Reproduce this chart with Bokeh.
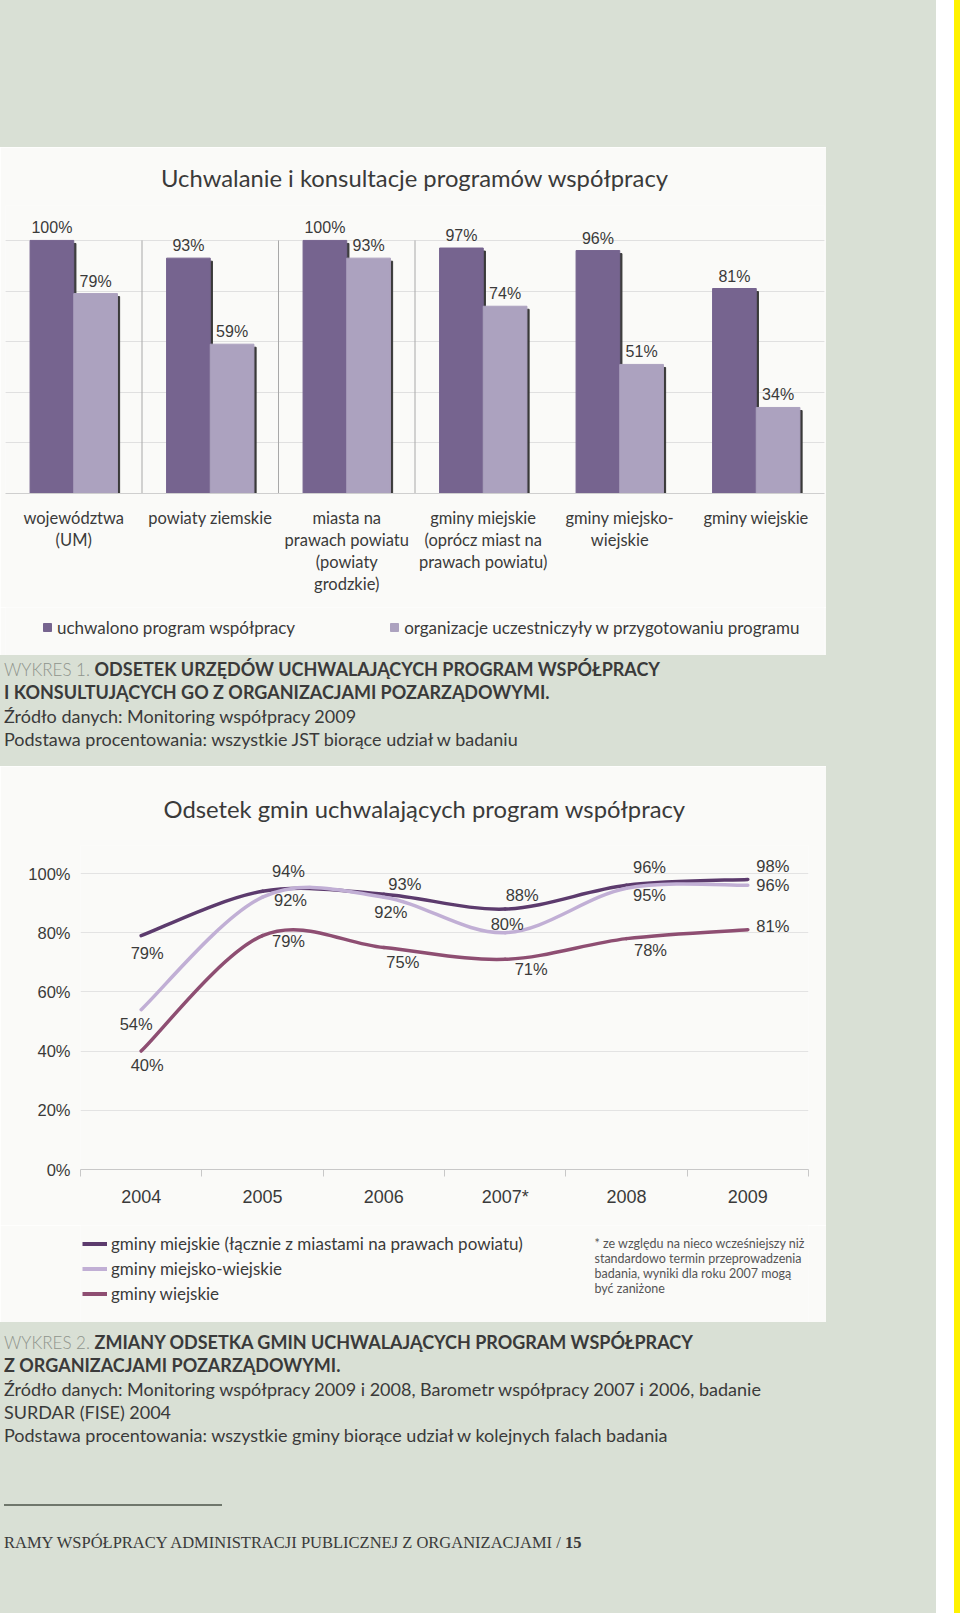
import numpy as np
from bokeh.plotting import figure
from bokeh.models import (ColumnDataSource, FixedTicker, Legend, LegendItem, Label, Div,
                          Range1d, PrintfTickFormatter, Grid)
from bokeh.layouts import column, row
from bokeh.embed import file_html
from bokeh.resources import INLINE
from bokeh.core.properties import value

# ---------------- data ----------------
bar_categories = ["województwa\n(UM)", "powiaty ziemskie",
                  "miasta na\nprawach powiatu\n(powiaty\ngrodzkie)",
                  "gminy miejskie\n(oprócz miast na\nprawach powiatu)",
                  "gminy miejsko-\nwiejskie", "gminy wiejskie"]
adopted = [100, 93, 100, 97, 96, 81]
consulted = [79, 59, 93, 74, 51, 34]
bar_series = ["uchwalono program współpracy",
              "organizacje uczestniczyły w przygotowaniu programu"]
bar_title = "Uchwalanie i konsultacje programów współpracy"

years = ["2004", "2005", "2006", "2007*", "2008", "2009"]
urban = [79, 94, 93, 88, 96, 98]
urban_rural = [54, 92, 92, 80, 95, 96]
rural = [40, 79, 75, 71, 78, 81]
line_series = ["gminy miejskie (łącznie z miastami na prawach powiatu)",
               "gminy miejsko-wiejskie", "gminy wiejskie"]
line_title = "Odsetek gmin uchwalających program współpracy"
y_ticks = [0, 20, 40, 60, 80, 100]
footnote = ("* ze względu na nieco wcześniejszy niż\nstandardowo termin przeprowadzenia\n"
            "badania, wyniki dla roku 2007 mogą\nbyć zaniżone")

caption1_label = "WYKRES 1."
caption1_title = ["ODSETEK URZĘDÓW UCHWALAJĄCYCH PROGRAM WSPÓŁPRACY",
                  "I KONSULTUJĄCYCH GO Z ORGANIZACJAMI POZARZĄDOWYMI."]
caption1_lines = ["Źródło danych: Monitoring współpracy 2009",
                  "Podstawa procentowania: wszystkie JST biorące udział w badaniu"]
caption2_label = "WYKRES 2."
caption2_title = ["ZMIANY ODSETKA GMIN UCHWALAJĄCYCH PROGRAM WSPÓŁPRACY",
                  "Z ORGANIZACJAMI POZARZĄDOWYMI."]
caption2_lines = ["Źródło danych: Monitoring współpracy 2009 i 2008, Barometr współpracy 2007 i 2006, badanie",
                  "SURDAR (FISE) 2004",
                  "Podstawa procentowania: wszystkie gminy biorące udział w kolejnych falach badania"]
footer_text = "RAMY WSPÓŁPRACY ADMINISTRACJI PUBLICZNEJ Z ORGANIZACJAMI"
footer_page = "15"

# ---------------- styles ----------------
SAGE = "#d9e0d5"
PANEL = "#fafaf8"
TXT = "#3a3a3a"
DARK_BAR = "#76648f"
LIGHT_BAR = "#aca2bf"
SHADOW = "#3a3a3a"
C_URBAN = "#5c3b6d"
C_UR = "#c1afd5"
C_RURAL = "#8e4e72"
HUM = "Lato"
NUM = "Liberation Sans"

# label offsets (pixels) for line chart data labels
off_urban = ([6, 26, 21, 17, 23, 25], [17, -20, -10, -14, -18, -13])
off_ur = ([-5, 28, 7, 2, 23, 25], [14, 3, 15, -9, 7, 0])
off_rural = ([6, 26, 19, 26, 24, 25], [14, 5, 14, 10, 11, -4])


def blank_fig(w, h, left, right):
    f = figure(width=w, height=h, x_range=Range1d(0, 1), y_range=Range1d(0, 1),
               output_backend="svg", toolbar_location=None,
               x_axis_location=None, y_axis_location=None,
               min_border_left=left, min_border_right=right, min_border_top=0, min_border_bottom=0,
               margin=0)
    f.background_fill_color = PANEL
    f.border_fill_color = PANEL
    f.outline_line_color = None
    f.grid.visible = False
    return f


# ================= chart 1: bars =================
W1, H1 = 826, 460
L1, R1 = 5, 2
p1 = figure(width=W1, height=H1, x_range=Range1d(-0.5, 5.5), y_range=Range1d(0, 113.8),
            output_backend="svg", toolbar_location=None, y_axis_location=None,
            min_border_left=L1, min_border_right=R1, min_border_top=58, min_border_bottom=114,
            margin=0, title=bar_title)
p1.background_fill_color = PANEL
p1.border_fill_color = PANEL
p1.outline_line_color = None
p1.title.align = "center"
p1.title.text_font = HUM
p1.title.text_font_style = "normal"
p1.title.text_font_size = "23.8px"
p1.title.text_color = TXT
p1.title.standoff = 27
p1.xgrid.visible = False
p1.add_layout(Grid(dimension=1, ticker=FixedTicker(ticks=y_ticks[1:]),
                   grid_line_color="#e0e0e0", grid_line_width=1))

idx1 = np.arange(len(bar_categories))
src1 = ColumnDataSource(dict(
    xd=idx1 - 0.16, xl=idx1 + 0.16,
    xds=idx1 - 0.16 + 0.016, xls=idx1 + 0.16 + 0.016,
    a=adopted, c=consulted,
    a_s=np.array(adopted) - 1.2, c_s=np.array(consulted) - 1.2,
    la=[f"{v}%" for v in adopted], lc=[f"{v}%" for v in consulted]))

# separators between first categories
sep = idx1[1:4] - 0.5
p1.segment(x0=sep, y0=0, x1=sep, y1=100, line_color="#a8a8a8", line_width=1)

p1.vbar(x="xds", top="a_s", width=0.32, source=src1, color=SHADOW)
p1.vbar(x="xls", top="c_s", width=0.32, source=src1, color=SHADOW)
p1.vbar(x="xd", top="a", width=0.32, source=src1, color=DARK_BAR)
p1.vbar(x="xl", top="c", width=0.32, source=src1, color=LIGHT_BAR)
for xf, yf, lf in (("xd", "a", "la"), ("xl", "c", "lc")):
    p1.text(x=xf, y=yf, text=lf, source=src1, text_align="center", text_baseline="bottom",
            y_offset=-4, text_font=value(NUM), text_font_size="16px", text_color=TXT)

ax1 = p1.xaxis[0]
ax1.ticker = FixedTicker(ticks=list(idx1))
ax1.major_label_overrides = {int(i): lab for i, lab in zip(idx1, bar_categories)}
ax1.major_tick_line_color = None
ax1.major_tick_out = 0
ax1.minor_tick_line_color = None
ax1.axis_line_color = "#cfcfcf"
ax1.major_label_standoff = 14
ax1.major_label_text_font = HUM
ax1.major_label_text_font_size = "16.5px"
ax1.major_label_text_line_height = 1.1
ax1.major_label_text_color = TXT

# legend strip for chart 1 (frame aligned with chart frame)
p1b = blank_fig(W1, 655 - 147 - H1, L1, R1)
ra = p1b.scatter(x="xd", y="a", source=src1, marker="square", color=DARK_BAR, visible=False)
rc = p1b.scatter(x="xl", y="c", source=src1, marker="square", color=LIGHT_BAR, visible=False)
leg1 = Legend(items=[LegendItem(label=bar_series[0], renderers=[ra]),
                     LegendItem(label=bar_series[1], renderers=[rc])],
              orientation="horizontal", location=(37 - L1, 17),
              glyph_width=20, glyph_height=22, label_height=22, label_standoff=0,
              spacing=89, padding=0, margin=0, border_line_color=None,
              background_fill_alpha=0, inactive_fill_alpha=0,
              label_text_font=HUM, label_text_font_size="17px", label_text_color=TXT)
p1b.add_layout(leg1)

# ================= chart 2: lines =================
W2, H2 = 826, 459
L2, R2 = 80, 18
p2 = figure(width=W2, height=H2, x_range=Range1d(-0.5, 5.5), y_range=Range1d(0, 109.46),
            output_backend="svg", toolbar_location=None,
            min_border_left=L2, min_border_right=R2, min_border_top=79, min_border_bottom=56,
            margin=0, title=line_title)
p2.background_fill_color = PANEL
p2.border_fill_color = PANEL
p2.outline_line_color = None
p2.title.align = "left"
p2.title.offset = 83
p2.title.text_font = HUM
p2.title.text_font_style = "normal"
p2.title.text_font_size = "23.8px"
p2.title.text_color = TXT
p2.title.standoff = 45
p2.xgrid.visible = False
p2.ygrid.ticker = FixedTicker(ticks=y_ticks[1:])
p2.ygrid.grid_line_color = "#e3e3e3"

ay = p2.yaxis[0]
ay.ticker = FixedTicker(ticks=y_ticks)
ay.formatter = PrintfTickFormatter(format="%d%%")
ay.axis_line_color = None
ay.major_tick_line_color = None
ay.minor_tick_line_color = None
ay.major_label_standoff = 4
ay.major_label_text_font = NUM
ay.major_label_text_font_size = "16.5px"
ay.major_label_text_color = TXT

idx2 = np.arange(len(years))
ax2 = p2.xaxis[0]
ax2.ticker = FixedTicker(ticks=list(idx2), minor_ticks=list(np.arange(len(years) + 1) - 0.5))
ax2.major_label_overrides = {int(i): y for i, y in zip(idx2, years)}
ax2.major_tick_line_color = None
ax2.major_tick_out = 0
ax2.minor_tick_out = 7
ax2.minor_tick_in = 0
ax2.minor_tick_line_color = "#c8c8c8"
ax2.axis_line_color = "#c8c8c8"
ax2.major_label_standoff = 10
ax2.major_label_text_font = NUM
ax2.major_label_text_font_size = "18px"
ax2.major_label_text_color = TXT


def bezier_source(vals):
    x = np.arange(len(vals), dtype=float)
    y = np.array(vals, dtype=float)
    n = len(vals)
    d = dict(x0=[], y0=[], x1=[], y1=[], cx0=[], cy0=[], cx1=[], cy1=[])
    for i in range(n - 1):
        pv, nx = max(i - 1, 0), min(i + 2, n - 1)
        d["x0"].append(x[i]); d["y0"].append(y[i])
        d["x1"].append(x[i + 1]); d["y1"].append(y[i + 1])
        d["cx0"].append(x[i] + (x[i + 1] - x[pv]) / 6)
        d["cy0"].append(y[i] + (y[i + 1] - y[pv]) / 6)
        d["cx1"].append(x[i + 1] - (x[nx] - x[i]) / 6)
        d["cy1"].append(y[i + 1] - (y[nx] - y[i]) / 6)
    return ColumnDataSource(d)


H2B = 1322 - 766 - H2
p2b = blank_fig(W2, H2B, L2, R2)
legend_items = []
for vals, col, name, offs in ((urban, C_URBAN, line_series[0], off_urban),
                              (urban_rural, C_UR, line_series[1], off_ur),
                              (rural, C_RURAL, line_series[2], off_rural)):
    p2.bezier(x0="x0", y0="y0", x1="x1", y1="y1", cx0="cx0", cy0="cy0", cx1="cx1", cy1="cy1",
              source=bezier_source(vals), line_color=col, line_width=3.5, line_cap="round")
    ls = ColumnDataSource(dict(x=idx2, y=vals, t=[f"{v}%" for v in vals],
                               xo=offs[0], yo=offs[1]))
    p2.text(x="x", y="y", text="t", source=ls, x_offset="xo", y_offset="yo",
            text_align="center", text_baseline="middle", text_font=value(NUM),
            text_font_size="16.5px", text_color=TXT)
    lr = p2b.line(x="x", y="y", source=ls, line_color=col, line_width=4, visible=False)
    legend_items.append(LegendItem(label=name, renderers=[lr]))

leg2 = Legend(items=legend_items, orientation="vertical", location=(82 - L2, H2B - 5.5 - 75),
              glyph_width=25, glyph_height=25, label_height=25, label_standoff=4,
              spacing=0, padding=0, margin=0, border_line_color=None,
              background_fill_alpha=0, inactive_fill_alpha=0,
              label_text_font=HUM, label_text_font_size="17px", label_text_color=TXT)
p2b.add_layout(leg2)
p2b.add_layout(Label(x=594 - L2, y=H2B - 10, x_units="screen", y_units="screen", text=footnote,
                     text_align="left", text_baseline="top", text_font=HUM,
                     text_font_size="12.5px", text_line_height=1.02, text_color="#555555"))

# ================= page layout =================
BASE = f"font-family:{HUM};font-size:18px;line-height:23.3px;color:{TXT};margin:0;"


def caption_html(label, title_lines, lines, top):
    return (f'<div style="{BASE}padding:{top}px 0 0 4px;white-space:nowrap;">'
            f'<span style="color:#8f948c;font-weight:300;font-size:17px;">{label}</span> '
            f'<b>{"<br>".join(title_lines)}</b><br>' + "<br>".join(lines) + '</div>')


def sage_div(w, h, text="", color=SAGE):
    return Div(width=w, height=h, text=text, margin=0,
               styles={"background-color": color, "overflow": "hidden"})


cap1 = sage_div(936, 111, caption_html(caption1_label, caption1_title, caption1_lines, 3))
cap2_html = (f'<div style="position:relative;width:936px;height:291px;">'
             f'<div style="position:absolute;left:0;top:0;">'
             + caption_html(caption2_label, caption2_title, caption2_lines, 9) + '</div>'
             f'<div style="position:absolute;left:4px;top:182px;width:218px;height:1.5px;background:#6f776c;"></div>'
             f'<div style="position:absolute;left:4px;top:211px;font-family:\'Liberation Serif\';font-size:16.5px;'
             f'line-height:20px;color:#3a3a3a;white-space:nowrap;">{footer_text} / <b>{footer_page}</b></div>'
             '</div>')
cap2 = sage_div(936, 291, cap2_html)

top = sage_div(936, 147)
r1 = row(column(p1, p1b, spacing=0, margin=0), sage_div(110, 508), spacing=0, margin=0)
r2 = row(column(p2, p2b, spacing=0, margin=0), sage_div(110, 556), spacing=0, margin=0)
left = column(top, r1, cap1, r2, cap2, spacing=0, margin=0)
page = row(left, sage_div(18, 1613, color="#ffffff"), sage_div(6, 1613, color="#fff200"),
           spacing=0, margin=0)

open("out.html", "w").write(file_html(page, INLINE, "Wykresy"))
